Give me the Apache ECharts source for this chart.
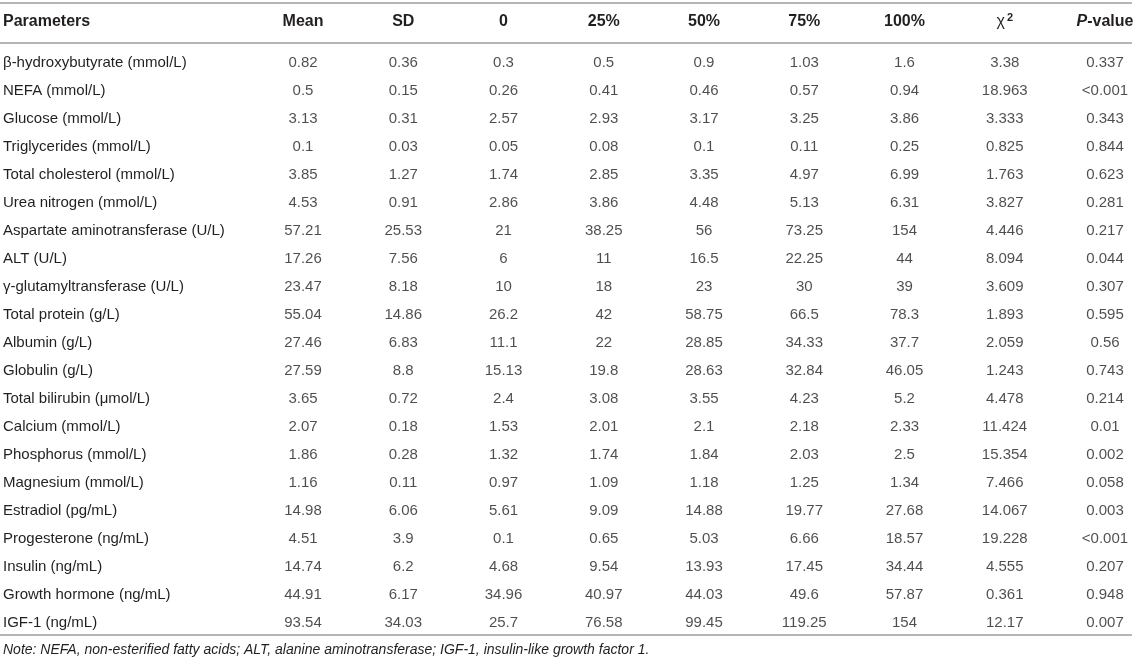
<!DOCTYPE html>
<html>
<head>
<meta charset="utf-8">
<script src="https://cdn.jsdelivr.net/npm/echarts@6/dist/echarts.min.js"></script>
<style>
  html, body { margin: 0; padding: 0; background: #fff; }
  #root { width: 1143px; height: 662px; }
</style>
</head>
<body>
<div id="root"></div>
<script>
// table content
const headers = ['Mean', 'SD', '0', '25%', '50%', '75%', '100%', 'χ2', 'P-value']
const parameters = [
  'β-hydroxybutyrate (mmol/L)', 'NEFA (mmol/L)', 'Glucose (mmol/L)', 'Triglycerides (mmol/L)',
  'Total cholesterol (mmol/L)', 'Urea nitrogen (mmol/L)', 'Aspartate aminotransferase (U/L)',
  'ALT (U/L)', 'γ-glutamyltransferase (U/L)', 'Total protein (g/L)', 'Albumin (g/L)',
  'Globulin (g/L)', 'Total bilirubin (μmol/L)', 'Calcium (mmol/L)', 'Phosphorus (mmol/L)',
  'Magnesium (mmol/L)', 'Estradiol (pg/mL)', 'Progesterone (ng/mL)', 'Insulin (ng/mL)',
  'Growth hormone (ng/mL)', 'IGF-1 (ng/mL)'
]
const mean = [0.82, 0.5, 3.13, 0.1, 3.85, 4.53, 57.21, 17.26, 23.47, 55.04, 27.46, 27.59, 3.65, 2.07, 1.86, 1.16, 14.98, 4.51, 14.74, 44.91, 93.54]
const sd = [0.36, 0.15, 0.31, 0.03, 1.27, 0.91, 25.53, 7.56, 8.18, 14.86, 6.83, 8.8, 0.72, 0.18, 0.28, 0.11, 6.06, 3.9, 6.2, 6.17, 34.03]
const q0 = [0.3, 0.26, 2.57, 0.05, 1.74, 2.86, 21, 6, 10, 26.2, 11.1, 15.13, 2.4, 1.53, 1.32, 0.97, 5.61, 0.1, 4.68, 34.96, 25.7]
const q25 = [0.5, 0.41, 2.93, 0.08, 2.85, 3.86, 38.25, 11, 18, 42, 22, 19.8, 3.08, 2.01, 1.74, 1.09, 9.09, 0.65, 9.54, 40.97, 76.58]
const q50 = [0.9, 0.46, 3.17, 0.1, 3.35, 4.48, 56, 16.5, 23, 58.75, 28.85, 28.63, 3.55, 2.1, 1.84, 1.18, 14.88, 5.03, 13.93, 44.03, 99.45]
const q75 = [1.03, 0.57, 3.25, 0.11, 4.97, 5.13, 73.25, 22.25, 30, 66.5, 34.33, 32.84, 4.23, 2.18, 2.03, 1.25, 19.77, 6.66, 17.45, 49.6, 119.25]
const q100 = [1.6, 0.94, 3.86, 0.25, 6.99, 6.31, 154, 44, 39, 78.3, 37.7, 46.05, 5.2, 2.33, 2.5, 1.34, 27.68, 18.57, 34.44, 57.87, 154]
const chi2 = [3.38, 18.963, 3.333, 0.825, 1.763, 3.827, 4.446, 8.094, 3.609, 1.893, 2.059, 1.243, 4.478, 11.424, 15.354, 7.466, 14.067, 19.228, 4.555, 0.361, 12.17]
const pValue = ['0.337', '<0.001', '0.343', '0.844', '0.623', '0.281', '0.217', '0.044', '0.307', '0.595', '0.56', '0.743', '0.214', '0.01', '0.002', '0.058', '0.003', '<0.001', '0.207', '0.948', '0.007']
const note = 'Note: NEFA, non-esterified fatty acids; ALT, alanine aminotransferase; IGF-1, insulin-like growth factor 1.'

const columns = [mean, sd, q0, q25, q50, q75, q100, chi2, pValue]

const FONT = '"Liberation Sans", Arial, Helvetica, sans-serif'
const TEXT = '#231f20'
const RULE = '#b5b5b5'

const cells = []
columns.forEach((col, c) => {
  col.forEach((v, r) => {
    cells.push([headers[c], parameters[r], String(v)])
  })
})

var myChart = echarts.init(document.getElementById('root'), null, { renderer: 'canvas' })

const option = {
  backgroundColor: '#fff',
  animation: false,
  textStyle: { fontFamily: FONT },
  title: {
    text: note,
    left: 3,
    top: 643,
    padding: 0,
    textStyle: { fontFamily: FONT, fontSize: 14, fontStyle: 'italic', fontWeight: 'normal', color: TEXT }
  },
  grid: { left: 303, right: 38, top: 62.5, bottom: 39.5 },
  xAxis: {
    type: 'category',
    data: headers,
    position: 'top',
    boundaryGap: false,
    axisLine: { show: false },
    axisTick: { show: false },
    splitLine: { show: false },
    axisLabel: {
      margin: 40.5,
      verticalAlign: 'middle',
      interval: 0,
      color: TEXT,
      fontSize: 16,
      fontWeight: 'bold',
      fontFamily: FONT,
      formatter: function (h) {
        if (h === 'χ2') return '{chi|χ}{sup|2}'
        if (h === 'P-value') return '{it|P}-value'
        return h
      },
      rich: {
        chi: { fontSize: 16, fontWeight: 'normal', color: TEXT, fontFamily: FONT },
        sup: { fontSize: 11, fontWeight: 'bold', color: TEXT, fontFamily: FONT, padding: [0, 0, 9, 2] },
        it: { fontSize: 16, fontWeight: 'bold', fontStyle: 'italic', color: TEXT, fontFamily: FONT }
      }
    }
  },
  yAxis: {
    type: 'category',
    data: parameters,
    inverse: true,
    boundaryGap: false,
    axisLine: { show: false },
    axisTick: { show: false },
    splitLine: { show: false },
    axisLabel: {
      interval: 0,
      margin: 300,
      align: 'left',
      color: TEXT,
      fontSize: 15,
      fontFamily: FONT
    }
  },
  graphic: [
    { type: 'line', shape: { x1: 0, y1: 3, x2: 1132, y2: 3 }, style: { stroke: RULE, lineWidth: 2 } },
    { type: 'line', shape: { x1: 0, y1: 43, x2: 1132, y2: 43 }, style: { stroke: RULE, lineWidth: 2 } },
    { type: 'line', shape: { x1: 0, y1: 635, x2: 1132, y2: 635 }, style: { stroke: RULE, lineWidth: 2 } },
    {
      type: 'text',
      style: { x: 3, y: 22, text: 'Parameters', fill: TEXT, font: 'bold 16px ' + FONT, verticalAlign: 'middle' }
    }
  ],
  series: [
    {
      type: 'scatter',
      data: cells,
      symbolSize: 1,
      itemStyle: { color: 'rgba(0,0,0,0)' },
      label: {
        show: true,
        position: 'inside',
        color: TEXT,
        fontSize: 15,
        fontFamily: FONT,
        formatter: p => p.value[2]
      }
    }
  ]
}

myChart.setOption(option)
</script>
</body>
</html>
